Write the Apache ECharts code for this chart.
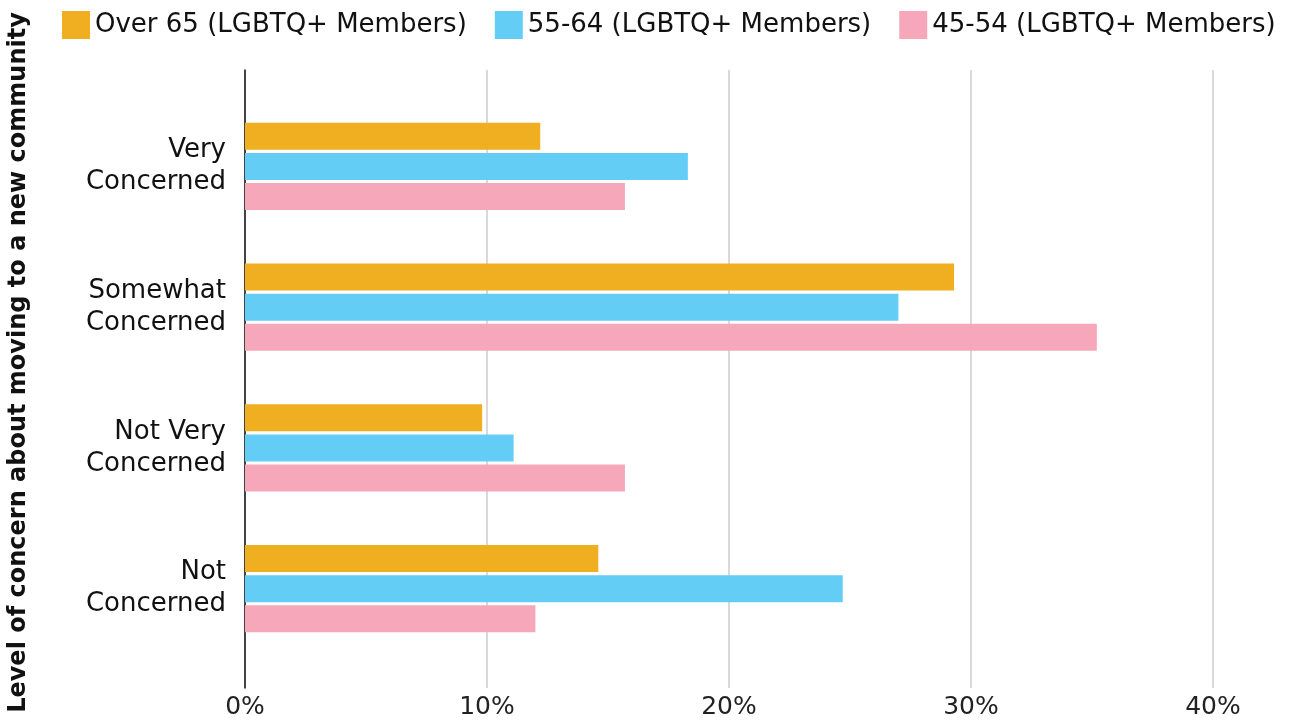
<!DOCTYPE html>
<html>
<head>
<meta charset="utf-8">
<style>
  html, body { margin: 0; padding: 0; background: #fff; }
  #chart { width: 1306px; height: 725px; }
</style>
<script src="https://cdn.jsdelivr.net/npm/echarts@6/dist/echarts.min.js"></script>
</head>
<body>
<div id="chart"></div>
<script>
// categories, top to bottom
const categories = ['Very\nConcerned', 'Somewhat\nConcerned', 'Not Very\nConcerned', 'Not\nConcerned']
const seriesNames = ['Over 65 (LGBTQ+ Members)', '55-64 (LGBTQ+ Members)', '45-54 (LGBTQ+ Members)']
// percent values
const over65 = [12.2, 29.3, 9.8, 14.6]
const age55to64 = [18.3, 27.0, 11.1, 24.7]
const age45to54 = [15.7, 35.2, 15.7, 12.0]
const colors = ['#EFAF20', '#64CDF5', '#F6A8BA']
const axisTitle = 'Level of concern about moving to a new community'

const fontFamily = '"DejaVu Sans", "Noto Sans", sans-serif'
const chart = echarts.init(document.getElementById('chart'))

const seriesData = [over65, age55to64, age45to54]

chart.setOption({
  animation: false,
  color: colors,
  textStyle: { fontFamily: fontFamily },
  legend: {
    left: 57,
    top: 6,
    itemWidth: 28,
    itemHeight: 28,
    itemGap: 28,
    icon: 'rect',
    textStyle: { fontSize: 26, color: '#111', fontFamily: fontFamily },
    data: seriesNames
  },
  grid: [
    // full plot frame: grid lines and x labels
    { left: 245, right: 93, top: 70, bottom: 37 },
    // bars
    { left: 245, right: 93, top: 96, bottom: 66 }
  ],
  xAxis: [{
    gridIndex: 0,
    type: 'value',
    min: 0,
    max: 40,
    interval: 10,
    axisLine: { show: false },
    axisTick: { show: false },
    axisLabel: {
      fontSize: 25,
      color: '#222',
      margin: 7,
      formatter: v => v + '%'
    },
    splitLine: { lineStyle: { color: '#d9d9d9', width: 2 } }
  }, {
    gridIndex: 1,
    type: 'value',
    min: 0,
    max: 40,
    show: false
  }],
  yAxis: [{
    gridIndex: 0,
    type: 'category',
    data: [''],
    axisLine: { show: true, lineStyle: { color: '#111', width: 1.5 } },
    axisTick: { show: false },
    axisLabel: { show: false }
  }, {
    gridIndex: 1,
    type: 'category',
    inverse: true,
    data: categories,
    axisLine: { show: false },
    axisTick: { show: false },
    axisLabel: {
      fontSize: 26,
      color: '#111',
      margin: 19,
      lineHeight: 32,
      align: 'right'
    }
  }],
  graphic: [{
    type: 'text',
    left: 7,
    top: 'middle',
    rotation: Math.PI / 2,
    style: {
      text: axisTitle,
      fill: '#111',
      font: 'bold 24px ' + fontFamily
    }
  }],
  series: seriesNames.map((name, i) => ({
    name: name,
    type: 'bar',
    xAxisIndex: 1,
    yAxisIndex: 1,
    barWidth: 27,
    barGap: '12%',
    data: seriesData[i],
    itemStyle: { color: colors[i] }
  }))
})
</script>
</body>
</html>
